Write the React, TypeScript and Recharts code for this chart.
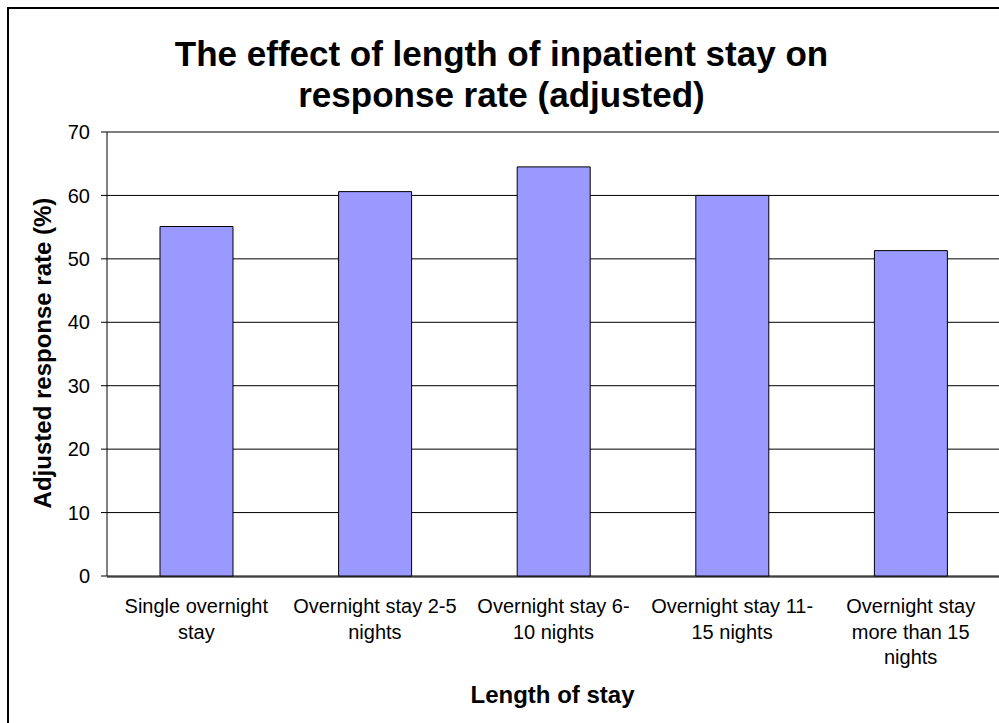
import React from "react";
import {
  BarChart,
  Bar,
  XAxis,
  YAxis,
  CartesianGrid,
} from "recharts";

// categories, in the order they appear on the x axis
const categories = [
  "Single overnight stay",
  "Overnight stay 2-5 nights",
  "Overnight stay 6-10 nights",
  "Overnight stay 11-15 nights",
  "Overnight stay more than 15 nights",
];

// how each category label wraps under the axis
const categoryLines = [
  ["Single overnight", "stay"],
  ["Overnight stay 2-5", "nights"],
  ["Overnight stay 6-", "10 nights"],
  ["Overnight stay 11-", "15 nights"],
  ["Overnight stay", "more than 15", "nights"],
];

// adjusted response rate (%)
const responseRates = [55.1, 60.6, 64.5, 60.0, 51.3];

const yTicks = [0, 10, 20, 30, 40, 50, 60, 70];
const edgeTicks = [0, 1, 2, 3, 4, 5];

const data = categories.map((name, i) => ({
  name,
  rate: responseRates[i],
  pos: i + 0.5,
}));

const FONT = '"Liberation Sans", Arial, sans-serif';

function CategoryTick(props: any) {
  const { x, payload } = props;
  const lines = categoryLines[categories.indexOf(payload.value)] || [payload.value];
  return (
    <text x={x} y={576} textAnchor="middle" fontSize={20} fontFamily={FONT} fill="#000">
      {lines.map((line, i) => (
        <tspan key={i} x={x} dy={i === 0 ? 37 : 25.7}>
          {line}
        </tspan>
      ))}
    </text>
  );
}

export default function App() {
  return (
    <div
      style={{
        position: "fixed",
        left: 0,
        top: 0,
        width: 999,
        height: 723,
        overflow: "hidden",
        background: "#fff",
        fontFamily: FONT,
      }}
    >
      {/* chart frame */}
      <div
        style={{
          position: "absolute",
          left: 7,
          top: 7,
          width: 1100,
          height: 800,
          border: "2px solid #000",
        }}
      />

      <div style={{ position: "absolute", left: 0, top: 0 }}>
        <BarChart
          width={1010}
          height={730}
          data={data}
          margin={{ top: 132, right: 10, bottom: 152, left: 0 }}
        >
          <CartesianGrid
            xAxisId="cat"
            vertical={false}
            stroke="#000"
            strokeWidth={1}
          />

          {/* boundary tick marks between categories */}
          <XAxis
            xAxisId="edges"
            dataKey="pos"
            type="number"
            domain={[0, 5]}
            ticks={edgeTicks}
            interval={0}
            allowDataOverflow
            height={1}
            tick={false}
            tickSize={8}
            tickLine={{ stroke: "#000" }}
            axisLine={{ stroke: "#000" }}
          />

          {/* category labels */}
          <XAxis
            xAxisId="cat"
            dataKey="name"
            height={1}
            interval={0}
            axisLine={false}
            tickLine={false}
            tickSize={0}
            tickMargin={0}
            tick={<CategoryTick />}
          />

          <YAxis
            width={107}
            domain={[0, 70]}
            ticks={yTicks}
            interval={0}
            tickSize={6}
            tickMargin={11}
            axisLine={{ stroke: "#000" }}
            tickLine={{ stroke: "#000" }}
            tick={{ fill: "#000", fontSize: 20, fontFamily: FONT }}
          />

          <Bar
            xAxisId="cat"
            dataKey="rate"
            fill="#9999FF"
            stroke="#000"
            strokeWidth={1}
            barSize={73}
            isAnimationActive={false}
          />
        </BarChart>
      </div>

      {/* title */}
      <div
        style={{
          position: "absolute",
          left: 0,
          top: 33,
          width: 1003,
          textAlign: "center",
          fontSize: 35,
          lineHeight: "41px",
          fontWeight: "bold",
          color: "#000",
        }}
      >
        The effect of length of inpatient stay on
        <br />
        response rate (adjusted)
      </div>

      {/* y axis title */}
      <div
        style={{
          position: "absolute",
          left: 43.4 - 200,
          top: 352.5 - 12,
          width: 400,
          height: 24,
          textAlign: "center",
          fontSize: 24,
          lineHeight: "24px",
          fontWeight: "bold",
          color: "#000",
          transform: "rotate(-90deg)",
          whiteSpace: "nowrap",
        }}
      >
        Adjusted response rate (%)
      </div>

      {/* x axis title */}
      <div
        style={{
          position: "absolute",
          left: 352.5,
          top: 682.7,
          width: 400,
          textAlign: "center",
          fontSize: 24,
          lineHeight: "24px",
          fontWeight: "bold",
          color: "#000",
          whiteSpace: "nowrap",
        }}
      >
        Length of stay
      </div>
    </div>
  );
}
